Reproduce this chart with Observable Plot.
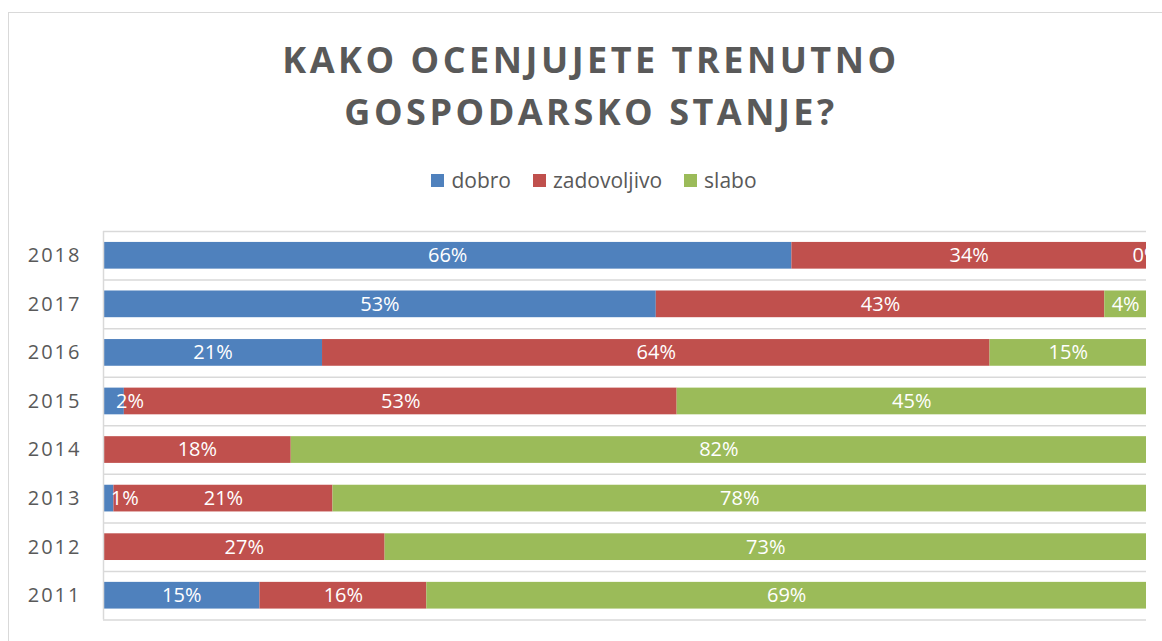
<!DOCTYPE html>
<html>
<head>
<meta charset="utf-8">
<script src="https://cdn.jsdelivr.net/npm/d3@7"></script>
<script src="https://cdn.jsdelivr.net/npm/@observablehq/plot@0.6"></script>
<style>
  html, body { margin: 0; padding: 0; background: #fff; }
  body { width: 1162px; height: 641px; overflow: hidden; position: relative; font-family: "Open Sans", sans-serif; }
  #frame { position: absolute; left: 8px; top: 12px; width: 1200px; height: 700px; border-left: 1.5px solid #d9d9d9; border-top: 1.5px solid #d9d9d9; }
  #title { position: absolute; left: 0; top: 34px; width: 1182px; text-align: center; font-weight: 700; font-size: 36px; line-height: 52px; letter-spacing: 3.5px; color: #595959; }
  #legend { position: absolute; left: 0; top: 166px; width: 1188px; display: flex; justify-content: center; gap: 22px; font-size: 21px; color: #595959; }
  #legend .item { display: flex; align-items: center; gap: 7px; }
  #legend .sw { width: 13px; height: 13px; display: inline-block; }
  #chart { position: absolute; left: 0; top: 200px; }
  #chart svg { overflow: hidden; }
</style>
</head>
<body>
<div id="frame"></div>
<div id="title">KAKO OCENJUJETE TRENUTNO<br>GOSPODARSKO STANJE?</div>
<div id="legend"></div>
<div id="chart"></div>
<script>
const years = ["2018", "2017", "2016", "2015", "2014", "2013", "2012", "2011"];
const dobro = [66, 53, 21, 2, null, 1, null, 15];
const zadovoljivo = [34, 43, 64, 53, 18, 21, 27, 16];
const slabo = [0, 4, 15, 45, 82, 78, 73, 69];
const seriesNames = ["dobro", "zadovoljivo", "slabo"];
const seriesColors = ["#4f81bd", "#c0504d", "#9bbb59"];

const valuesBySeries = {dobro, zadovoljivo, slabo};
const rows = [];
years.forEach((year, i) => {
  seriesNames.forEach(s => {
    const v = valuesBySeries[s][i];
    if (v != null) rows.push({year, series: s, value: v});
  });
});

// legend
const legend = document.getElementById("legend");
seriesNames.forEach((s, i) => {
  const item = document.createElement("div");
  item.className = "item";
  const sw = document.createElement("span");
  sw.className = "sw";
  sw.style.background = seriesColors[i];
  const t = document.createElement("span");
  t.textContent = s;
  item.appendChild(sw);
  item.appendChild(t);
  legend.appendChild(item);
});

const W = 1146, H = 441, mT = 31, mB = 21.5, mL = 103;
const step = (H - mT - mB) / years.length;
const isSmallDobro = d => d.series === "dobro" && d.value < 5;

const plot = Plot.plot({
  width: W,
  height: H,
  marginTop: mT,
  marginBottom: mB,
  marginLeft: mL,
  marginRight: 0,
  style: {fontFamily: "Open Sans, sans-serif", background: "transparent"},
  x: {domain: [0, 100], axis: null},
  y: {domain: years, paddingInner: 0.45, paddingOuter: 0.225, round: false, label: null, tickSize: 0, tickPadding: 22},
  color: {domain: seriesNames, range: seriesColors},
  marks: [
    Plot.ruleY(years, {y: d => d, dy: -step / 2, stroke: "#d9d9d9", strokeWidth: 1.5}),
    Plot.ruleY([years[years.length - 1]], {y: d => d, dy: step / 2, stroke: "#d9d9d9", strokeWidth: 1.5}),
    Plot.barX(rows, Plot.stackX({x: "value", y: "year", fill: "series", order: seriesNames})),
    Plot.ruleX([0], {stroke: "#d9d9d9", strokeWidth: 1.5}),
    Plot.text(rows, Plot.stackX({x: "value", y: "year", z: "series", order: seriesNames,
      text: d => isSmallDobro(d) ? "" : d.value + "%", fill: "white", fontSize: 20})),
    Plot.text(rows, Plot.stackX({x: "value", y: "year", z: "series", order: seriesNames,
      text: d => isSmallDobro(d) ? d.value + "%" : "", fill: "white", fontSize: 20, dx: 16}))
  ]
});
document.getElementById("chart").appendChild(plot);

// y tick label styling
plot.querySelectorAll("g[aria-label='y-axis tick label'] text, g[aria-label='y-axis tick label']").forEach(el => {
  el.setAttribute("font-size", "20");
  el.setAttribute("fill", "#595959");
  el.style.letterSpacing = "2px";
});
</script>
</body>
</html>
